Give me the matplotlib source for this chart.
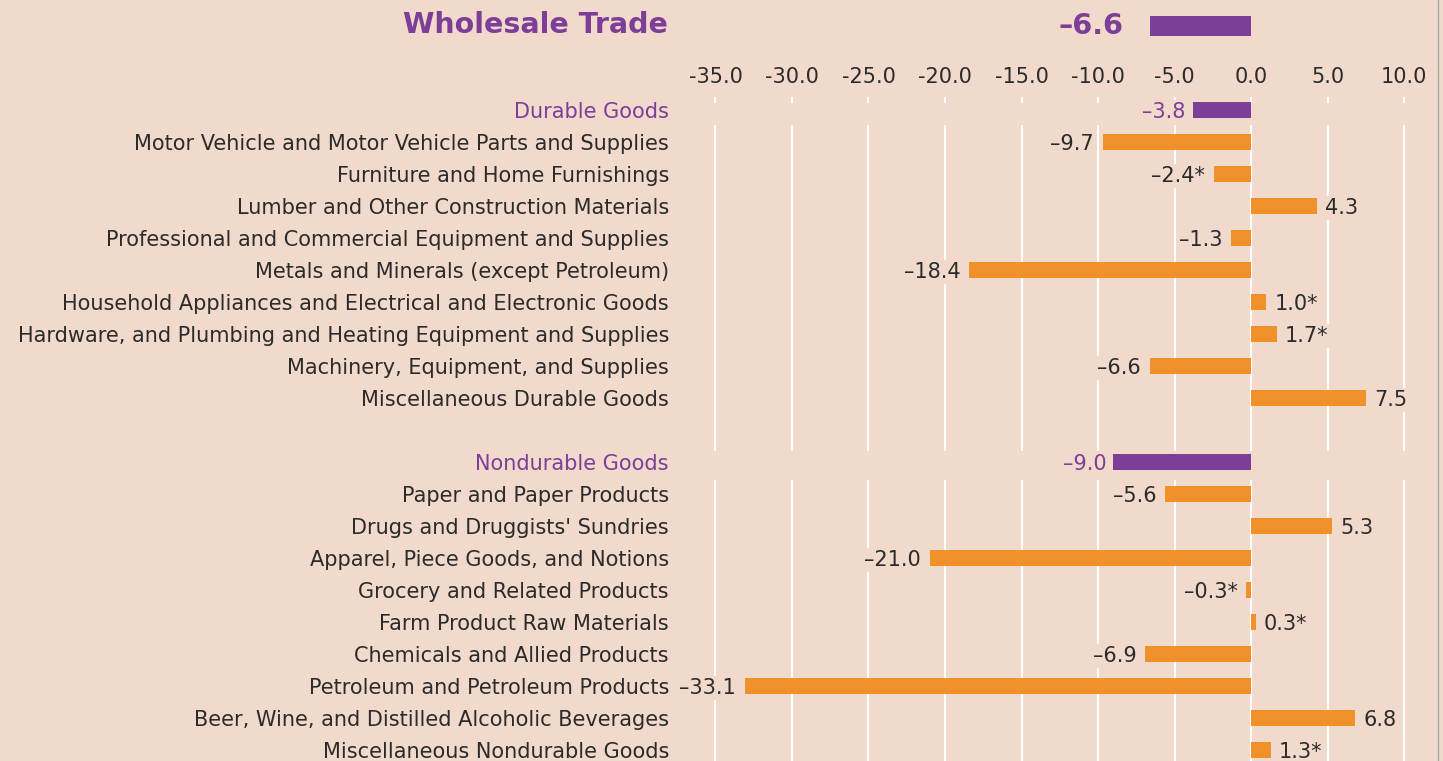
import matplotlib
matplotlib.use("Agg")
import matplotlib.pyplot as plt
from matplotlib.lines import Line2D

BG = '#f1d9cc'
PURPLE = '#7d3e97'
ORANGE = '#f29029'
TEXT = '#2b2b2b'
FONT = 'DejaVu Sans'

# data
title = 'Wholesale Trade'
total = -6.6

durable_name = 'Durable Goods'
durable_total = -3.8
durable_items = [
    'Motor Vehicle and Motor Vehicle Parts and Supplies',
    'Furniture and Home Furnishings',
    'Lumber and Other Construction Materials',
    'Professional and Commercial Equipment and Supplies',
    'Metals and Minerals (except Petroleum)',
    'Household Appliances and Electrical and Electronic Goods',
    'Hardware, and Plumbing and Heating Equipment and Supplies',
    'Machinery, Equipment, and Supplies',
    'Miscellaneous Durable Goods',
]
durable_values = [-9.7, -2.4, 4.3, -1.3, -18.4, 1.0, 1.7, -6.6, 7.5]
durable_flags = [False, True, False, False, False, True, True, False, False]

nondurable_name = 'Nondurable Goods'
nondurable_total = -9.0
nondurable_items = [
    'Paper and Paper Products',
    "Drugs and Druggists' Sundries",
    'Apparel, Piece Goods, and Notions',
    'Grocery and Related Products',
    'Farm Product Raw Materials',
    'Chemicals and Allied Products',
    'Petroleum and Petroleum Products',
    'Beer, Wine, and Distilled Alcoholic Beverages',
    'Miscellaneous Nondurable Goods',
]
nondurable_values = [-5.6, 5.3, -21.0, -0.3, 0.3, -6.9, -33.1, 6.8, 1.3]
nondurable_flags = [False, False, False, True, True, False, False, False, True]

ticks = [-35.0, -30.0, -25.0, -20.0, -15.0, -10.0, -5.0, 0.0, 5.0, 10.0]


def fmt(v, flag=False):
    s = f'{v:.1f}'.replace('-', '\u2013')
    return s + ('*' if flag else '')


# rows: header, items, blank, header, items
labels = [durable_name] + durable_items + [nondurable_name] + nondurable_items
values = [durable_total] + durable_values + [nondurable_total] + nondurable_values
flags = [False] + durable_flags + [False] + nondurable_flags
pos = list(range(0, 10)) + list(range(11, 21))
is_header = [True] + [False] * 9 + [True] + [False] * 9

W, H = 1443, 761
fig = plt.figure(figsize=(W / 100, H / 100), dpi=100, facecolor=BG)
ax = fig.add_axes([680 / W, 0, (1437 - 680) / W, (H - 97) / H])
ax.set_facecolor(BG)
ax.set_xlim((680 - 1251) / 15.3, (1437 - 1251) / 15.3)
ax.set_ylim((H - 110) / 32, (97 - 110) / 32)

# gridlines, broken at section headers
ax.vlines(ticks, 0.47, 10.65, colors='white', lw=1.5, zorder=0)
ax.vlines(ticks, 11.55, 20.5, colors='white', lw=1.5, zorder=0)

colors = [PURPLE if h else ORANGE for h in is_header]
ax.barh(pos, values, height=0.5, color=colors, zorder=2)

for p, v, f, h in zip(pos, values, flags, is_header):
    if h:
        off = -7
    else:
        off = -9 if v < 0 else 8
    ax.annotate(fmt(v, f), (v, p + 0.06), xytext=(off, 0), textcoords='offset pixels',
                ha='right' if v < 0 else 'left', va='center',
                fontsize=15, family=FONT, color=PURPLE if h else TEXT, zorder=3,
                bbox=dict(boxstyle='square,pad=0.1', fc=BG, ec='none'))

# overall total row
title_row = (26 - 110) / 32
ax.barh(title_row, total, height=0.62, color=PURPLE, clip_on=False)
ax.annotate(fmt(total), (total, title_row), xytext=(-27, 0), textcoords='offset pixels',
            ha='right', va='center', fontsize=20.7, fontweight='bold', family=FONT,
            color=PURPLE, annotation_clip=False)
fig.text(668 / W, 1 - 25 / H, title, ha='right', va='center', fontsize=20.5,
         fontweight='bold', family=FONT, color=PURPLE)

ax.set_yticks(pos, labels)
for lab, h in zip(ax.get_yticklabels(), is_header):
    lab.set_color(PURPLE if h else TEXT)
    lab.set_family(FONT)
    lab.set_fontsize(15)
ax.tick_params(axis='y', length=0, pad=8)

ax.xaxis.tick_top()
ax.set_xticks(ticks, [f'{t:.1f}' for t in ticks])
ax.tick_params(axis='x', direction='in', length=4, width=1.5, color='white',
               pad=7, labelsize=15, labelcolor=TEXT)
for lab in ax.get_xticklabels():
    lab.set_family(FONT)

for s in ax.spines.values():
    s.set_visible(False)

fig.add_artist(Line2D([1437.5 / W] * 2, [0, 1], color='#a8a8a8', lw=1))

fig.savefig('out.png', dpi=100, facecolor=BG)
